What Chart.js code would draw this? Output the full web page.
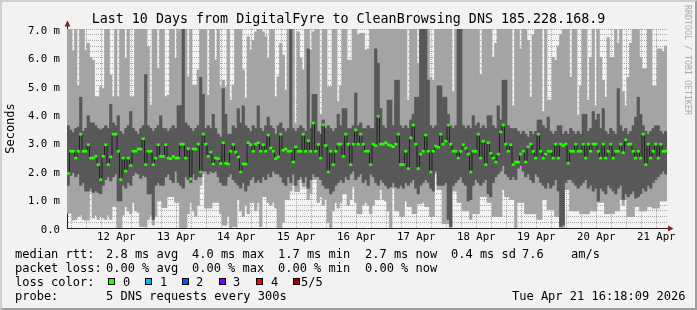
<!DOCTYPE html>
<html>
<head>
<meta charset="utf-8">
<script src="https://cdn.jsdelivr.net/npm/chart.js@4.4.1/dist/chart.umd.min.js"></script>
<style>
html,body{margin:0;padding:0;background:#f2f2f2;}
#wrap{position:relative;width:697px;height:310px;overflow:hidden;background:#f2f2f2;font-family:"DejaVu Sans Mono",monospace;color:#000;}
#frame{position:absolute;left:0;top:0;width:697px;height:310px;box-sizing:border-box;border-top:2px solid #cfcfcf;border-left:2px solid #cfcfcf;border-right:2px solid #9e9e9e;border-bottom:2px solid #9e9e9e;pointer-events:none;}
#c{position:absolute;left:0;top:0;}
.t{position:absolute;white-space:pre;font-size:12px;line-height:14px;}
#title{position:absolute;left:0;top:11px;width:697px;text-align:center;font-size:13.33px;line-height:16px;white-space:pre;}
#wm{position:absolute;left:683px;top:5px;writing-mode:vertical-rl;font-size:8.3px;line-height:10px;color:#ababab;white-space:pre;}
.box{position:absolute;top:278px;width:5px;height:5px;border:1px solid #000;}
</style>
</head>
<body>
<div id="wrap">
  <canvas id="c" width="697" height="310"></canvas>
  <div id="title">Last 10 Days from DigitalFyre to CleanBrowsing DNS 185.228.168.9</div>
  <div id="wm">RRDTOOL / TOBI OETIKER</div>

  <div class="t" style="left:15px;top:247px">median rtt:</div>
  <div class="t" style="left:106px;top:247px">2.8 ms avg</div>
  <div class="t" style="left:192px;top:247px">4.0 ms max</div>
  <div class="t" style="left:278px;top:247px">1.7 ms min</div>
  <div class="t" style="left:365px;top:247px">2.7 ms now</div>
  <div class="t" style="left:451px;top:247px">0.4 ms sd</div>
  <div class="t" style="left:522px;top:247px">7.6</div>
  <div class="t" style="left:571px;top:247px">am/s</div>

  <div class="t" style="left:15px;top:261px">packet loss:</div>
  <div class="t" style="left:106px;top:261px">0.00 % avg</div>
  <div class="t" style="left:192px;top:261px">0.00 % max</div>
  <div class="t" style="left:278px;top:261px">0.00 % min</div>
  <div class="t" style="left:365px;top:261px">0.00 % now</div>

  <div class="t" style="left:15px;top:275px">loss color:</div>
  <div class="box" style="left:108px;background:#26ff00"></div>
  <div class="t" style="left:123px;top:275px">0</div>
  <div class="box" style="left:145px;background:#00b8ff"></div>
  <div class="t" style="left:160px;top:275px">1</div>
  <div class="box" style="left:182px;background:#0059ff"></div>
  <div class="t" style="left:196px;top:275px">2</div>
  <div class="box" style="left:219px;background:#7e00ff"></div>
  <div class="t" style="left:233px;top:275px">3</div>
  <div class="box" style="left:256px;background:#ff0000"></div>
  <div class="t" style="left:271px;top:275px">4</div>
  <div class="box" style="left:293px;background:#a00000"></div>
  <div class="t" style="left:301px;top:275px">5/5</div>

  <div class="t" style="left:15px;top:289px">probe:</div>
  <div class="t" style="left:106px;top:289px">5 DNS requests every 300s</div>
  <div class="t" style="left:512px;top:289px">Tue Apr 21 16:18:09 2026</div>
  <div id="frame"></div>
</div>
<script>
// ---- data (ms), one value per hourly step, oldest first ----
const MIN_RTT = [
0.52,0.52,0.28,0.3,0.4,0.45,0.3,0.28,0.28,1.28,
0.35,0.45,0.3,0.4,0.35,0.3,0.45,0.3,0.75,0.75,
0,0,0.45,0.75,0.6,0.5,0.9,0.6,0.55,0.05,
0.05,0.05,0.3,0.45,0.1,0.4,0.95,0.95,0.72,0.72,
1.1,1.1,1.1,0.9,0.9,0,0,0,0.5,0.9,
0.6,0.4,0.8,1.5,1.9,0.7,0.7,0.7,0.9,0.9,
0.9,0.5,0.1,0.1,0.4,0,0.05,0.05,1.0,0.6,
0.4,0.8,0.5,0.9,0.9,0.6,0.9,0.05,1.1,1.1,
0.9,0.8,0.9,0.7,0,0,0.2,1.0,1.0,1.3,
1.5,1.28,1.28,1.7,1.45,1.45,1.0,1.2,1.7,1.7,
0.9,1.1,0.8,1.0,0.2,0,0.6,0.9,0.7,0.9,
1.2,1.2,0.8,1.0,1.45,0.9,0.5,0.5,0.8,0.9,
0.8,0.5,0.8,1.0,1.0,1.35,1.0,0.95,0.6,0,
1.4,0.6,0.6,0.4,0.4,0.95,0.75,0.75,0.5,0.5,
0.85,0.85,0.9,0.75,0.75,0.4,0.4,1.9,1.35,1.35,
0.15,0.15,0.15,0,1.3,1.3,0.9,0.9,0.6,0.6,
0.6,0.3,0.5,0.5,0.5,1.1,1.1,1.1,0.9,0.9,
0.4,0.4,0.4,0.4,1.35,1.1,1.1,1.0,1.0,0,
0.9,0.9,0.9,0.5,0.5,0.5,0.5,0.5,0.3,0.3,
1.0,1.0,0.65,0.65,0.65,0.4,0.4,0,0,1.35,
1.35,0.6,0.6,0.6,0.6,0.5,0.5,0.5,0.5,0.6,
0.6,0.6,0.9,0.9,0.9,0.5,0.5,0.5,0.5,0.6,
0.6,1.0,0.8,1.0,0.4,0.4,0.4,0.75,0.75,0.6,
0.6,0.6,0.75,0.75,0.7,0.7,0.7,0.95,0.95,0.95
];
const LOW_RTT = [
1.5,1.85,1.95,1.8,1.9,1.5,1.6,1.3,1.3,1.4,
1.25,1.3,1.25,1.2,1.5,1.7,1.8,1.65,1.8,1.9,
0.95,0.95,1.5,1.4,1.6,1.5,1.85,1.95,1.9,1.75,
1.85,1.8,1.2,1.2,0.3,1.5,1.6,1.5,1.5,1.8,
1.9,1.7,1.6,2.0,1.6,1.5,1.4,1.8,1.7,1.6,
1.9,1.7,1.8,1.8,2.0,2.0,1.9,2.0,1.95,2.0,
1.8,1.6,1.5,1.5,1.8,1.9,1.7,1.6,1.5,1.4,
1.6,1.3,1.5,1.7,1.8,1.6,1.7,1.6,1.8,1.7,
1.9,1.8,2.0,1.9,1.9,1.8,1.6,1.5,1.8,1.6,
1.9,1.5,1.7,1.8,1.6,1.8,1.4,1.7,1.9,1.8,
1.8,1.7,1.5,1.4,1.4,1.2,1.3,1.5,1.6,1.7,
1.6,1.8,1.7,1.9,2.0,1.7,1.8,1.9,1.6,1.7,
1.5,1.9,1.8,1.6,1.5,1.7,1.6,1.5,1.4,1.45,
1.6,1.45,1.4,1.5,1.4,1.6,1.5,1.6,1.7,1.4,
1.2,1.5,1.6,1.7,1.6,1.4,1.3,2.0,1.5,1.5,
1.5,1.6,0.3,0.05,1.5,1.6,1.7,1.8,1.6,1.5,
0.95,1.0,1.5,1.7,1.6,1.5,1.6,1.7,1.2,1.1,
1.6,1.8,1.9,2.0,2.2,1.9,1.8,1.7,1.8,1.7,
2.1,2.2,2.0,1.8,1.9,1.7,1.6,1.9,1.8,1.6,
1.5,1.4,1.6,1.4,1.5,1.7,1.3,0.05,0.1,1.6,
1.7,1.7,1.6,1.5,1.4,1.5,1.6,1.7,1.4,1.5,
1.3,1.4,0.95,1.4,1.3,1.2,1.5,1.4,1.3,1.2,
1.4,1.5,1.0,1.2,1.1,1.2,1.3,1.05,1.1,1.2,
1.4,1.3,1.5,1.4,1.6,1.7,1.8,1.9,2.0,1.9
];
const MEDIAN_RTT = [
1.92,2.7,2.7,2.46,2.7,3.3,2.7,2.7,2.93,2.46,
2.46,2.52,2.23,1.7,2.52,2.93,2.23,2.5,3.3,3.3,
2.7,1.7,2.46,2.0,2.46,2.2,2.7,2.7,2.78,2.78,
3.14,2.23,2.7,2.7,2.23,2.46,2.93,2.52,2.52,2.93,
2.46,2.44,2.52,2.46,2.46,2.95,2.95,2.46,2.79,1.73,
2.78,2.78,2.95,1.97,3.3,2.95,2.52,2.67,2.25,2.46,
2.44,2.27,3.0,2.28,2.25,2.7,2.94,2.67,2.5,1.97,
2.25,2.25,3.0,2.93,2.7,2.95,3.0,2.7,2.93,2.7,
3.27,2.81,2.7,2.44,2.5,3.3,2.74,2.78,2.7,2.7,
2.32,2.85,2.7,2.7,3.3,2.7,3.07,2.7,3.69,2.7,
2.94,2.46,3.63,2.9,1.97,2.7,2.23,2.7,2.95,2.95,
2.52,3.3,2.95,2.23,2.95,3.45,2.95,3.3,2.95,2.7,
2.7,2.23,2.95,2.9,3.93,2.95,2.95,3.0,2.93,2.9,
2.86,2.95,3.3,2.23,2.23,2.7,2.09,3.17,3.62,2.95,
2.09,2.6,2.7,3.27,2.7,1.97,2.7,2.88,2.84,3.3,
2.95,3.05,3.62,2.95,2.7,2.7,2.46,2.7,2.93,2.81,
2.6,1.97,2.7,2.7,3.3,2.46,3.05,2.23,3.0,2.63,
2.46,2.32,2.6,3.38,3.62,2.95,2.7,2.93,2.23,2.32,
2.32,2.6,2.7,2.32,2.86,2.95,2.7,2.46,3.3,2.7,
2.46,2.6,2.7,2.7,2.46,2.95,2.46,2.95,2.9,2.95,
2.28,2.7,2.7,2.95,2.7,2.7,2.95,2.46,2.95,2.7,
2.95,2.95,2.7,2.46,2.95,2.46,2.7,2.95,2.46,2.7,
2.7,2.95,2.65,3.1,2.95,2.95,2.7,2.46,2.7,2.46,
3.3,2.23,2.95,2.46,2.7,2.95,2.46,2.95,2.7,2.7
];
const HIGH_RTT = [
3.6,3.45,3.35,3.5,3.55,4.6,3.4,3.5,3.95,3.7,
3.7,3.6,3.5,3.45,3.5,3.6,3.5,4.35,3.7,3.6,
3.95,3.4,3.3,3.5,3.6,4.1,3.5,3.4,3.3,3.5,
3.6,5.4,3.6,3.5,3.4,3.5,3.6,3.95,3.5,3.5,
3.4,3.5,3.6,3.5,4.3,4.3,7.5,3.7,3.6,3.5,
3.4,3.5,3.6,5.3,4.7,3.5,3.6,3.5,4.0,3.5,
3.3,3.2,4.9,4.0,3.3,3.3,3.6,3.5,4.2,3.7,
4.3,3.6,3.5,3.4,3.6,3.5,4.3,3.5,3.4,3.6,
3.9,3.6,3.5,3.3,3.6,3.7,3.5,3.4,3.5,7.5,
3.5,3.4,3.5,3.6,3.5,3.4,6.3,3.5,4.7,4.7,
3.4,3.3,3.8,3.5,3.6,3.5,3.4,3.5,4.0,3.6,
4.2,4.2,3.5,3.5,3.6,4.75,3.6,3.7,3.5,3.5,
3.6,3.5,3.5,6.3,5.8,4.2,3.6,3.5,4.5,4.5,
3.6,5.2,5.2,3.6,3.5,3.6,3.5,3.8,4.0,4.6,
4.6,7.5,7.5,7.5,5.2,3.6,3.5,3.6,5.0,5.0,
4.6,4.6,4.0,3.6,3.5,3.6,7.5,7.5,3.6,3.5,
3.6,3.5,3.95,3.6,3.7,3.5,3.6,3.5,3.95,3.95,
3.6,3.5,4.3,3.8,5.2,5.2,3.6,3.5,3.5,3.5,
3.4,3.3,3.4,3.3,3.2,3.4,3.3,3.4,3.8,3.8,
3.6,3.5,3.9,3.4,3.3,3.4,3.6,3.6,3.3,3.4,
3.3,3.5,3.4,3.3,3.4,3.3,4.0,4.0,3.4,3.5,
4.1,3.8,4.0,3.5,4.2,3.4,3.3,3.5,3.4,3.3,
4.9,3.6,3.4,3.5,3.3,3.4,3.6,3.9,4.6,4.0,
3.6,3.4,3.3,3.4,3.5,3.6,3.6,3.4,3.3,3.4
];
const MAX_RTT = [
7.5,7.5,6.24,7.5,5.0,7.5,7.5,6.24,6.5,6.0,
5.9,4.62,4.62,4.97,4.9,7.5,7.5,5.38,4.62,7.5,
4.62,7.5,7.5,5.97,7.5,4.62,4.62,7.5,7.5,7.5,
7.5,7.5,6.38,4.32,7.5,7.5,5.62,7.5,7.5,4.62,
4.68,7.5,7.5,5.97,7.5,7.5,7.5,7.5,5.32,7.5,
5.03,5.03,5.56,7.5,7.5,7.5,4.68,7.5,7.5,5.91,
7.5,4.97,5.2,4.97,7.5,4.5,5.03,7.5,7.5,7.5,
5.56,4.56,6.73,6.26,6.6,6.9,7.5,7.5,6.9,6.73,
5.97,7.5,7.5,4.62,5.32,6.5,6.08,4.85,7.5,7.5,
7.5,3.7,6.9,5.97,5.56,7.5,7.5,6.26,6.9,7.5,
7.5,4.0,7.5,7.5,4.97,4.97,7.5,7.5,4.45,5.0,
7.5,7.5,5.9,5.9,7.5,7.5,6.8,6.85,6.85,6.26,
6.3,7.5,7.5,7.5,7.5,7.5,7.5,7.5,7.5,7.5,
7.5,7.5,7.5,7.5,7.5,7.5,4.5,7.5,7.5,7.5,
5.8,7.5,7.5,7.5,7.5,5.3,5.2,7.5,7.5,7.5,
7.5,7.5,7.5,7.5,4.8,7.5,7.5,7.5,7.5,7.5,
7.5,7.5,7.5,7.5,7.5,5.4,7.5,7.5,7.5,7.5,
6.0,6.5,7.5,7.5,7.5,7.5,7.5,7.5,4.3,7.5,
7.5,6.3,7.5,7.5,6.6,4.6,6.8,7.5,7.5,7.5,
4.1,7.5,4.5,4.5,6.0,5.9,6.4,6.8,7.5,7.5,
7.5,5.3,7.5,7.5,3.95,5.0,7.5,7.5,4.5,6.0,
7.5,4.3,7.5,6.0,5.2,4.6,6.7,6.0,6.0,7.5,
6.5,7.5,4.8,4.3,5.3,6.5,7.5,7.5,7.0,6.0,
5.6,5.6,7.5,7.5,5.0,5.0,6.3,6.3,6.2,6.4
];
const DAY_LABELS = ['12 Apr','13 Apr','14 Apr','15 Apr','16 Apr','17 Apr','18 Apr','19 Apr','20 Apr','21 Apr'];
const HOURS_SPAN = 240;                 // 10 days of hourly steps
const HOURS_TO_FIRST_MIDNIGHT = 7.6975; // start Apr 11 16:18:09
const Y_MAX = 7.0;

// ---- derived helpers ----
const GREEN_HALF = 0.035;
const xAt = i => i + 0.5;
const X_TICKS = [];
for (let k = -1; ; k++) {
  const v = HOURS_TO_FIRST_MIDNIGHT + 6 * k;
  if (v < 0) continue;
  if (v > HOURS_SPAN) break;
  X_TICKS.push(v);
}
const tickK = v => Math.round((v - HOURS_TO_FIRST_MIDNIGHT) / 6);
const isInt = v => Math.abs(v - Math.round(v)) < 1e-6;
const MGRID = 'rgba(222,79,79,0.6)';
const GRID = 'rgba(143,143,143,0.75)';
const FONT = 'DejaVu Sans Mono';

const arrows = {
  id: 'arrows',
  afterDraw(chart) {
    const {ctx, chartArea: a} = chart;
    const x0 = Math.round(a.left) + 0.5, y0 = Math.round(a.bottom) + 0.5;
    ctx.save();
    ctx.strokeStyle = '#1f1f1f'; ctx.lineWidth = 1;
    ctx.beginPath();
    ctx.moveTo(x0, a.top); ctx.lineTo(x0, a.top - 4);
    ctx.moveTo(a.right, y0); ctx.lineTo(a.right + 2, y0);
    ctx.stroke();
    ctx.fillStyle = '#7f1f1f';
    ctx.beginPath();
    ctx.moveTo(x0 - 3, a.top - 2.5); ctx.lineTo(x0 + 3, a.top - 2.5); ctx.lineTo(x0, a.top - 8.5); ctx.closePath(); ctx.fill();
    ctx.beginPath();
    ctx.moveTo(a.right + 1, y0 - 3); ctx.lineTo(a.right + 1, y0 + 3); ctx.lineTo(a.right + 6.5, y0); ctx.closePath(); ctx.fill();
    ctx.restore();
  }
};

new Chart(document.getElementById('c'), {
  type: 'bar',
  data: {
    datasets: [
      { label: 'outer smoke', order: 4, grouped: false, backgroundColor: '#a4a4a4', borderWidth: 0, clip: 0,
        data: MIN_RTT.map((v, i) => ({x: xAt(i), y: [v, MAX_RTT[i]]})) },
      { label: 'inner smoke', order: 3, grouped: false, backgroundColor: '#585858', borderWidth: 0, clip: 0,
        data: LOW_RTT.map((v, i) => ({x: xAt(i), y: [v, HIGH_RTT[i]]})) },
      { type: 'line', label: 'median', order: 2, borderColor: '#202020', borderWidth: 1, pointRadius: 0,
        stepped: 'middle', clip: 0, data: MEDIAN_RTT.map((v, i) => ({x: xAt(i), y: v})) },
      { label: 'loss 0', order: 1, grouped: false, backgroundColor: '#26ff00', borderWidth: 0, clip: 0,
        data: MEDIAN_RTT.map((v, i) => ({x: xAt(i), y: [v - GREEN_HALF, v + GREEN_HALF]})) }
    ]
  },
  options: {
    responsive: false, animation: false, devicePixelRatio: 1,
    barPercentage: 1, categoryPercentage: 1,
    layout: {padding: {left: 0, top: 29, right: 30, bottom: 0}},
    plugins: {legend: {display: false}, tooltip: {enabled: false}, title: {display: false}},
    scales: {
      x: {
        type: 'linear', min: 0, max: HOURS_SPAN, offset: false, z: 1,
        afterBuildTicks: s => { s.ticks = X_TICKS.map(v => ({value: v})); },
        afterFit: s => { s.height = 82; s.paddingLeft = 0; s.paddingRight = 0; },
        grid: {offset: false, drawTicks: false, lineWidth: 1,
               color: c => (tickK(c.tick.value) % 4 === 0 ? MGRID : GRID)},
        border: {display: true, color: '#1f1f1f', width: 1, dash: [1, 1]},
        ticks: {autoSkip: false, maxRotation: 0, minRotation: 0, padding: 3, color: '#000',
                font: {family: FONT, size: 10.67},
                callback: v => { const k = tickK(v); return (k % 4 === 2) ? DAY_LABELS[(k - 2) / 4] : ''; }}
      },
      y: {
        type: 'linear', min: 0, max: Y_MAX, z: 1,
        afterBuildTicks: s => { const t = []; for (let k = 0; k <= Y_MAX * 5; k++) t.push({value: k / 5}); s.ticks = t; },
        afterFit: s => { s.width = 67; s.paddingTop = 0; s.paddingBottom = 0; },
        grid: {drawTicks: false, lineWidth: 1, color: c => (isInt(c.tick.value) ? MGRID : GRID)},
        border: {display: true, color: '#1f1f1f', width: 1, dash: [1, 1]},
        title: {display: true, text: 'Seconds', color: '#000', font: {family: FONT, size: 12}, padding: {top: 4, bottom: 0}},
        ticks: {autoSkip: false, padding: 7, labelOffset: 2, color: '#000', font: {family: FONT, size: 10.67},
                callback: v => { if (!isInt(v)) return ''; const r = Math.round(v); return r === 0 ? '0.0' : r.toFixed(1) + ' m'; }}
      }
    }
  },
  plugins: [arrows]
});
</script>
</body>
</html>
